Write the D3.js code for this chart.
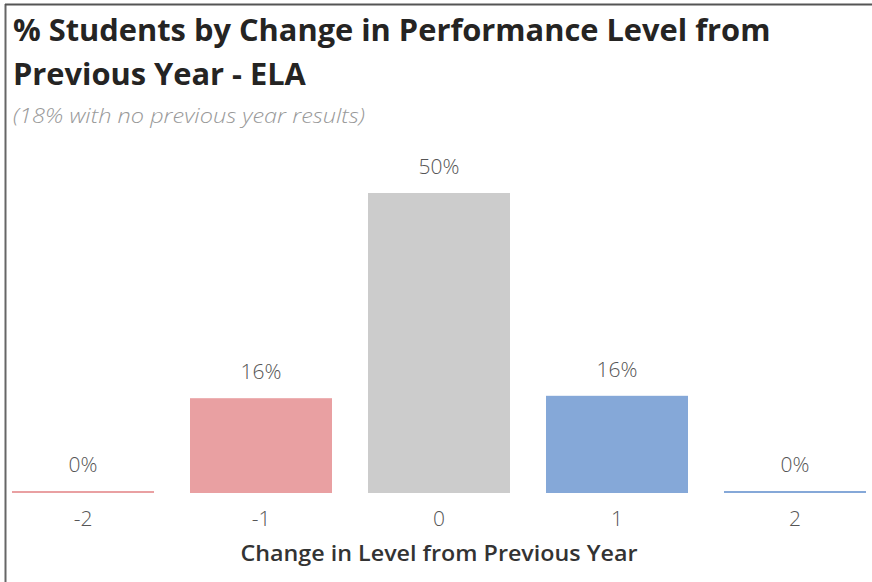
<!DOCTYPE html>
<html><head><meta charset="utf-8">
<script src="https://cdn.jsdelivr.net/npm/d3@7"></script>
<style>
html,body{margin:0;padding:0;background:#fff;}
svg{display:block;}
</style></head>
<body>
<svg id="chart" width="872" height="582"></svg>
<script>
const categories = ["-2", "-1", "0", "1", "2"];
const values = [0, 15.8, 50, 16.2, 0];
const labels = ["0%", "16%", "50%", "16%", "0%"];
const colors = ["#E9A0A2", "#E9A0A2", "#CCCCCC", "#85A8D8", "#85A8D8"];
const titleLines = ["% Students by Change in Performance Level from", "Previous Year - ELA"];
const subtitle = "(18% with no previous year results)";
const xTitle = "Change in Level from Previous Year";

const svg = d3.select("#chart");
const font = "'Open Sans', 'Noto Sans', sans-serif";

// frame (top and left lines)
svg.append("line").attr("x1",5.5).attr("x2",5.5).attr("y1",4).attr("y2",582).attr("stroke","#666").attr("stroke-width",2);
svg.append("line").attr("x1",5).attr("x2",872).attr("y1",4.5).attr("y2",4.5).attr("stroke","#555").attr("stroke-width",2);

svg.selectAll("text.title").data(titleLines).join("text")
  .attr("class","title")
  .attr("x",13).attr("y",(d,i)=>41 + i*44)
  .attr("font-family",font).attr("font-weight",700).attr("font-size",30.8)
  .attr("fill","#252423").text(d=>d);

svg.append("text").attr("x",13).attr("y",123)
  .attr("font-family",font).attr("font-style","italic").attr("font-weight",300).attr("font-size",21)
  .attr("fill","#999").text(subtitle)
  .attr("textLength",352).attr("lengthAdjust","spacingAndGlyphs");

const x = d3.scaleBand().domain(categories).range([12,866]).paddingInner(0.2022).paddingOuter(0);
const y = d3.scaleLinear().domain([0,50]).range([493,193]);

const data = categories.map((c,i)=>({c, v:values[i], l:labels[i], col:colors[i]}));

svg.selectAll("rect.bar").data(data).join("rect")
  .attr("class","bar")
  .attr("x",d=>x(d.c)).attr("width",x.bandwidth())
  .attr("y",d=> d.v===0 ? y(0)-2 : y(d.v))
  .attr("height",d=> d.v===0 ? 2 : y(0)-y(d.v))
  .attr("fill",d=>d.col);

svg.selectAll("text.val").data(data).join("text")
  .attr("class","val")
  .attr("x",d=>x(d.c)+x.bandwidth()/2)
  .attr("y",d=> (d.v===0 ? y(0)-2 : y(d.v)) - 19)
  .attr("text-anchor","middle")
  .attr("font-family",font).attr("font-weight",300).attr("font-size",21)
  .attr("fill","#555").text(d=>d.l);

const xAxis = d3.axisBottom(x).tickSize(0).tickPadding(18);
const gx = svg.append("g").attr("transform",`translate(0,${y(0)})`).call(xAxis);
gx.select(".domain").remove();
gx.selectAll("text").attr("font-family",font).attr("font-weight",300).attr("font-size",21).attr("fill","#555");

svg.append("text").attr("x",439).attr("y",561).attr("text-anchor","middle")
  .attr("font-family",font).attr("font-weight",600).attr("font-size",22)
  .attr("fill","#333").text(xTitle)
  .attr("textLength",397).attr("lengthAdjust","spacingAndGlyphs");
</script>
</body></html>
